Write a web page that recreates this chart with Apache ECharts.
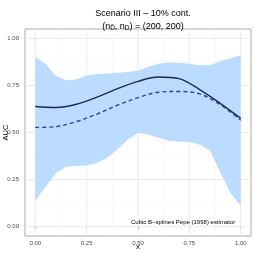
<!DOCTYPE html>
<html><head><meta charset="utf-8">
<script src="https://cdn.jsdelivr.net/npm/echarts@6/dist/echarts.min.js"></script>
<style>html,body{margin:0;padding:0;background:#fff}#c{width:254px;height:254px}</style>
</head><body><div id="c"></div>
<script>
const bandX = [0,0.05,0.1,0.15,0.2,0.25,0.3,0.35,0.4,0.45,0.5,0.55,0.6,0.65,0.7,0.75,0.8,0.85,0.9,0.95,1.0];
const bandUpper = [0.90,0.865,0.80,0.778,0.782,0.803,0.81,0.814,0.818,0.822,0.828,0.85,0.866,0.872,0.87,0.865,0.858,0.858,0.878,0.895,0.91];
const bandLower = [0.137,0.21,0.285,0.318,0.323,0.324,0.338,0.366,0.41,0.462,0.497,0.49,0.472,0.456,0.452,0.449,0.435,0.405,0.29,0.18,0.11];
const lineX = [0,0.1,0.2,0.3,0.4,0.5,0.6,0.7,0.8,0.9,1.0];
const solidY = [0.638,0.633,0.65,0.688,0.733,0.772,0.795,0.786,0.728,0.655,0.575];
const dashedY = [0.527,0.531,0.558,0.598,0.645,0.685,0.714,0.718,0.705,0.648,0.565];
const xTicks = [0,0.25,0.5,0.75,1];
const yTicks = [0,0.25,0.5,0.75,1];
const FONT = 'Liberation Sans';

const chart = echarts.init(document.getElementById('c'), null, {renderer:'canvas'});
const pair = (xs, ys) => xs.map((x,i)=>[x, ys[i]]);
chart.setOption({
  animation:false,
  textStyle:{fontFamily:FONT},
  title:[
    {text:'Scenario III – 10% cont.', left:138, top:4, textAlign:'center',
     textStyle:{fontSize:9, fontWeight:'normal', color:'#000', fontFamily:FONT}},
    {text:'(n{sub|D̄}, n{sub|D}) = (200, 200)', left:138, top:16, textAlign:'center',
     textStyle:{fontSize:9, fontWeight:'normal', color:'#000', fontFamily:FONT,
       rich:{sub:{fontSize:6.5, fontFamily:FONT, color:'#000', verticalAlign:'bottom', padding:[4,0,0,0]}}}}
  ],
  grid:{left:25, right:3, top:29, bottom:18, containLabel:false, outerBoundsMode:'none',
    show:true, borderColor:'#aaaaaa', borderWidth:1, backgroundColor:'transparent'},
  xAxis:{type:'value', min:-0.05, max:1.05,
    name:'x', nameLocation:'middle', nameGap:7, nameMoveOverlap:false,
    nameTextStyle:{fontSize:8, color:'#000', fontFamily:FONT},
    axisLine:{show:false},
    axisTick:{show:true, length:2, lineStyle:{color:'#555'}, customValues:xTicks},
    axisLabel:{fontSize:6, color:'#4d4d4d', margin:4, customValues:xTicks, formatter:v=>v.toFixed(2)},
    splitLine:{show:false}
  },
  yAxis:{type:'value', min:-0.05, max:1.05,
    name:'AUC', nameLocation:'middle', nameGap:15, nameRotate:90, nameMoveOverlap:false,
    nameTextStyle:{fontSize:7.5, color:'#000', fontFamily:FONT},
    axisLine:{show:false},
    axisTick:{show:true, length:2, lineStyle:{color:'#555'}, customValues:yTicks},
    axisLabel:{fontSize:6, color:'#4d4d4d', margin:6, customValues:yTicks, formatter:v=>v.toFixed(2)},
    splitLine:{show:false}
  },
  series:[
    {type:'custom', silent:true, z:1,
     data:[0],
     renderItem:(params, api)=>{
       const children=[];
       const major=[0,0.25,0.5,0.75,1], minor=[0.125,0.375,0.625,0.875];
       const lo=api.coord([-0.05,-0.05]), hi=api.coord([1.05,1.05]);
       minor.forEach(v=>{const p=api.coord([v,v]);
         children.push({type:'line',shape:{x1:p[0],y1:lo[1],x2:p[0],y2:hi[1]},style:{stroke:'#f4f4f4',lineWidth:0.6}});
         children.push({type:'line',shape:{x1:lo[0],y1:p[1],x2:hi[0],y2:p[1]},style:{stroke:'#f4f4f4',lineWidth:0.6}});});
       major.forEach(v=>{const p=api.coord([v,v]);
         children.push({type:'line',shape:{x1:p[0],y1:lo[1],x2:p[0],y2:hi[1]},style:{stroke:'#ebebeb',lineWidth:1}});
         children.push({type:'line',shape:{x1:lo[0],y1:p[1],x2:hi[0],y2:p[1]},style:{stroke:'#ebebeb',lineWidth:1}});});
       return {type:'group', children};
     }},
    {type:'custom', silent:true, z:2,
     data:[0],
     renderItem:(params, api)=>{
       const pts=[];
       bandX.forEach((x,i)=>pts.push(api.coord([x,bandUpper[i]])));
       for(let i=bandX.length-1;i>=0;i--) pts.push(api.coord([bandX[i],bandLower[i]]));
       return {type:'polygon', shape:{points:pts}, style:{fill:'#bbdcfe'}};
     }},
    {type:'line', data:pair(lineX, solidY), smooth:0.35, showSymbol:false, z:3,
     lineStyle:{color:'#1b2b4b', width:1.4}},
    {type:'line', data:pair(lineX, dashedY), smooth:0.35, showSymbol:false, z:3,
     lineStyle:{color:'#2a3fae', width:1.4, type:[4,3]}}
  ],
  graphic:[{type:'text', left:131, top:219, z:10,
    style:{text:'Cubic B−splines Pepe (1998) estimator', fontSize:6, fill:'#000', fontFamily:FONT}}]
});
</script></body></html>
